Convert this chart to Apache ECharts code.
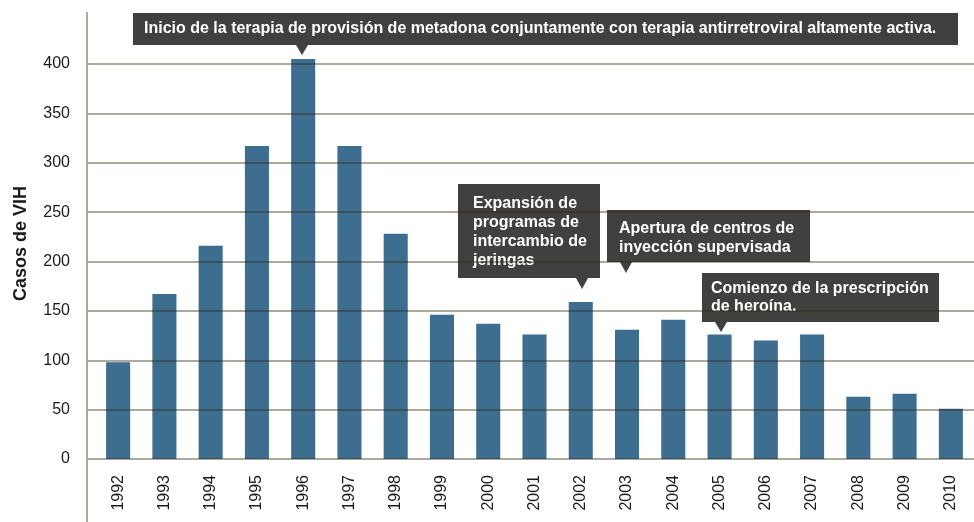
<!DOCTYPE html>
<html>
<head>
<meta charset="utf-8">
<script src="https://cdn.jsdelivr.net/npm/echarts@6/dist/echarts.min.js"></script>
<style>
  html, body { margin: 0; padding: 0; background: #fff; }
  #chart { width: 974px; height: 522px; }
</style>
</head>
<body>
<div id="chart"></div>
<script>
const years = ['1992', '1993', '1994', '1995', '1996', '1997', '1998', '1999', '2000', '2001',
  '2002', '2003', '2004', '2005', '2006', '2007', '2008', '2009', '2010'];
const cases = [98, 167, 216, 317, 405, 317, 228, 146, 137, 126,
  159, 131, 141, 126, 120, 126, 63, 66, 51];
const yMin = 0, yMax = 400, yStep = 50;
const yName = 'Casos de VIH';

const notes = [
  ['Inicio de la terapia de provisión de metadona conjuntamente con terapia antirretroviral altamente activa.'],
  ['Expansión de', 'programas de', 'intercambio de', 'jeringas'],
  ['Apertura de centros de', 'inyección supervisada'],
  ['Comienzo de la prescripción', 'de heroína.']
];

// box layout for each note: rect, text origin, pointer tip
const noteBoxes = [
  { x: 133, y: 13, w: 825, h: 32, tx: 144, ty: 29, tip: [302, 55], line: 18.5 },
  { x: 458, y: 184, w: 142, h: 94, tx: 473, ty: 204, tip: [582, 289], line: 18.7 },
  { x: 607, y: 210, w: 203, h: 52, tx: 619, ty: 229, tip: [626, 273], line: 19 },
  { x: 702, y: 273, w: 237, h: 49, tx: 711, ty: 289, tip: [721, 332], line: 17.5 }
];

const gridColor = 'rgba(50,40,15,0.4)';
const boxColor = '#404040';
const barColor = '#3d6d8f';
const font = 'Liberation Sans';

function noteGraphic(lines, b) {
  const half = 6;
  return {
    type: 'group',
    z: 20,
    children: [
      { type: 'rect', shape: { x: b.x, y: b.y, width: b.w, height: b.h }, style: { fill: boxColor } },
      {
        type: 'polygon',
        shape: { points: [[b.tip[0] - half, b.y + b.h], [b.tip[0] + half, b.y + b.h], b.tip] },
        style: { fill: boxColor }
      },
      {
        type: 'text',
        x: b.tx,
        y: b.ty - b.line / 2,
        style: {
          text: lines.join('\n'),
          fill: '#fff',
          font: 'bold 16px "Liberation Sans"',
          lineHeight: b.line,
          verticalAlign: 'top',
          align: 'left'
        }
      }
    ]
  };
}

const chart = echarts.init(document.getElementById('chart'), null, { renderer: 'canvas' });

const option = {
  backgroundColor: '#fff',
  animation: false,
  grid: [
    { left: 87, right: 0, top: 64, bottom: 63 },
    { left: 95, right: -1, top: 64, bottom: 63 }
  ],
  xAxis: [
    { gridIndex: 0, type: 'value', min: 0, max: 1, show: false },
    {
      gridIndex: 1,
      type: 'category',
      data: years,
      axisLine: { show: false },
      axisTick: { show: false },
      axisLabel: {
        rotate: 90,
        margin: 16,
        fontSize: 16,
        fontFamily: font,
        color: '#1a1a1a'
      }
    }
  ],
  yAxis: [
    {
      gridIndex: 0,
      type: 'value',
      min: yMin,
      max: yMax,
      interval: yStep,
      z: 5,
      name: yName,
      nameLocation: 'middle',
      nameGap: 57,
      nameTextStyle: {
        fontSize: 18, fontWeight: 'bold', fontFamily: font, color: '#1a1a1a',
        padding: [0, 0, 0, 36]
      },
      axisLine: { show: false },
      axisTick: { show: false },
      axisLabel: { margin: 17, fontSize: 16, fontFamily: font, color: '#1a1a1a' },
      splitLine: { show: true, lineStyle: { color: gridColor, width: 2 } }
    },
    { gridIndex: 1, type: 'value', min: yMin, max: yMax, show: false }
  ],
  series: [{
    type: 'bar',
    xAxisIndex: 1,
    yAxisIndex: 1,
    data: cases,
    barWidth: '52%',
    clip: false,
    z: 1,
    itemStyle: { color: barColor }
  }],
  graphic: [
    {
      type: 'line',
      z: 10,
      shape: { x1: 87, y1: 12, x2: 87, y2: 522 },
      style: { stroke: '#aca89e', lineWidth: 2 }
    }
  ].concat(notes.map((n, i) => noteGraphic(n, noteBoxes[i])))
};

chart.setOption(option);
</script>
</body>
</html>
